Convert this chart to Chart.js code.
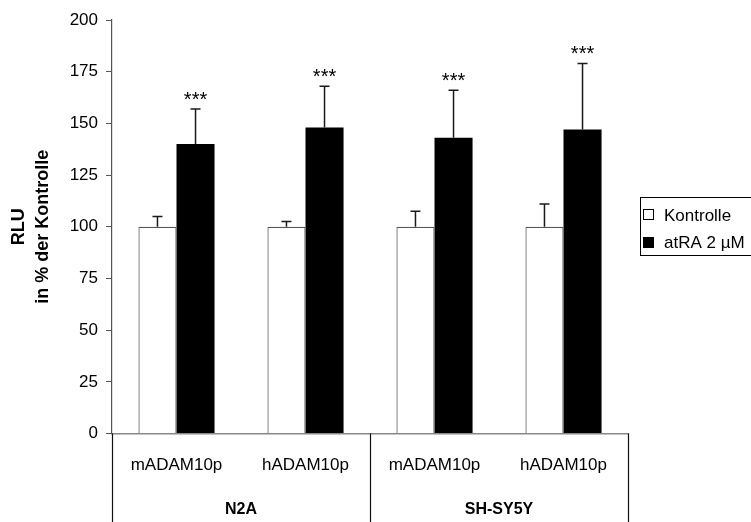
<!DOCTYPE html>
<html>
<head>
<meta charset="utf-8">
<script src="https://cdn.jsdelivr.net/npm/chart.js@4/dist/chart.umd.min.js"></script>
<style>
  html, body { margin: 0; padding: 0; background: #fff; }
  canvas { display: block; }
</style>
</head>
<body>
<canvas id="chart" width="751" height="522"></canvas>
<script>
// Promoter constructs per cell line
const categories = ['mADAM10p', 'hADAM10p', 'mADAM10p', 'hADAM10p'];
const cellLines = ['N2A', 'SH-SY5Y'];
const seriesNames = ['Kontrolle', 'atRA 2 µM'];

// RLU in % of control, with upper error (SD)
const kontrolle = [100, 100, 100, 100];
const kontrolleErr = [5, 2.5, 7.5, 11];
const atra = [140, 148, 143, 147];
const atraErr = [17, 20, 23, 32];
const atraSignificance = ['***', '***', '***', '***'];

const yMin = 0, yMax = 200, yStep = 25;

const FONT = "'Liberation Sans', Arial, sans-serif";

// Upper error whiskers plus significance marks above them
const errorBars = {
  id: 'errorBars',
  afterDatasetsDraw(chart) {
    const { ctx, scales: { y } } = chart;
    ctx.save();
    chart.data.datasets.forEach((ds, i) => {
      const meta = chart.getDatasetMeta(i);
      meta.data.forEach((bar, j) => {
        const top = y.getPixelForValue(ds.data[j]);
        const end = y.getPixelForValue(ds.data[j] + ds.errors[j]);
        ctx.strokeStyle = '#1a1a1a';
        ctx.lineWidth = 1.5;
        ctx.beginPath();
        ctx.moveTo(bar.x, top);
        ctx.lineTo(bar.x, end);
        ctx.moveTo(bar.x - 5, end);
        ctx.lineTo(bar.x + 5, end);
        ctx.stroke();
        if (ds.marks) {
          ctx.fillStyle = '#000';
          ctx.font = '20px ' + FONT;
          ctx.textAlign = 'center';
          ctx.textBaseline = 'alphabetic';
          ctx.fillText(ds.marks[j], bar.x, end - 3);
        }
      });
    });
    ctx.restore();
  }
};

// Cell-line grouping below the axis and the boxed legend on the right
const decorations = {
  id: 'decorations',
  afterDraw(chart) {
    const { ctx, chartArea, scales: { x } } = chart;
    const bottom = chart.height;
    const step = x.getPixelForValue(1) - x.getPixelForValue(0);
    ctx.save();
    ctx.strokeStyle = '#111';
    ctx.lineWidth = 1.2;
    const seps = [x.getPixelForValue(0) - step / 2, x.getPixelForValue(1) + step / 2, x.getPixelForValue(3) + step / 2];
    seps.forEach(px => {
      const sx = Math.round(px) + 0.5;
      ctx.beginPath();
      ctx.moveTo(sx, chartArea.bottom);
      ctx.lineTo(sx, bottom);
      ctx.stroke();
    });
    ctx.fillStyle = '#000';
    ctx.font = 'bold 16px ' + FONT;
    ctx.textAlign = 'center';
    ctx.textBaseline = 'middle';
    cellLines.forEach((name, g) => {
      const cx = (x.getPixelForValue(g * 2) + x.getPixelForValue(g * 2 + 1)) / 2;
      ctx.fillText(name, cx, 510);
    });

    // legend
    ctx.strokeStyle = '#000';
    ctx.lineWidth = 1;
    ctx.strokeRect(640.5, 197.5, 140, 58);
    ctx.font = '17px ' + FONT;
    ctx.textAlign = 'left';
    ctx.textBaseline = 'alphabetic';
    chart.data.datasets.forEach((ds, i) => {
      const base = 221 + i * 27;
      if (ds.backgroundColor === '#ffffff') {
        ctx.strokeStyle = '#000';
        ctx.strokeRect(643.5, base - 11.5, 10, 10);
      } else {
        ctx.fillStyle = '#000';
        ctx.fillRect(643, base - 11, 11, 11);
      }
      ctx.fillStyle = '#000';
      ctx.fillText(ds.label, 664, base);
    });
    ctx.restore();
  }
};

new Chart(document.getElementById('chart'), {
  type: 'bar',
  data: {
    labels: categories,
    datasets: [
      {
        label: seriesNames[0],
        data: kontrolle,
        errors: kontrolleErr,
        backgroundColor: '#ffffff',
        borderColor: '#555',
        borderWidth: 1.2
      },
      {
        label: seriesNames[1],
        data: atra,
        errors: atraErr,
        marks: atraSignificance,
        backgroundColor: '#000000',
        borderColor: '#000000',
        borderWidth: 0
      }
    ]
  },
  options: {
    responsive: false,
    devicePixelRatio: 1,
    animation: false,
    categoryPercentage: 0.59,
    barPercentage: 1,
    layout: { padding: { top: 20, right: 123, left: 0, bottom: 0 } },
    plugins: {
      legend: { display: false },
      tooltip: { enabled: false }
    },
    scales: {
      x: {
        grid: { display: false },
        border: { display: true, color: '#888', width: 1.5 },
        ticks: {
          color: '#000',
          font: { family: FONT, size: 17 },
          padding: 14,
          maxRotation: 0
        },
        afterFit(scale) { scale.height = 88.5; }
      },
      y: {
        min: yMin,
        max: yMax,
        grid: { drawOnChartArea: false, drawTicks: true, tickLength: 6, color: '#555' },
        border: { display: true, color: '#555', width: 1.2 },
        ticks: {
          stepSize: yStep,
          color: '#000',
          font: { family: FONT, size: 17 },
          padding: 8
        },
        title: {
          display: true,
          text: ['RLU', 'in % der Kontrolle'],
          color: '#000',
          font: { family: FONT, size: 18, weight: 'bold', lineHeight: 1.35 },
          padding: { top: 7, bottom: 0 }
        },
        afterFit(scale) { scale.width = 112; }
      }
    }
  },
  plugins: [errorBars, decorations]
});
</script>
</body>
</html>
